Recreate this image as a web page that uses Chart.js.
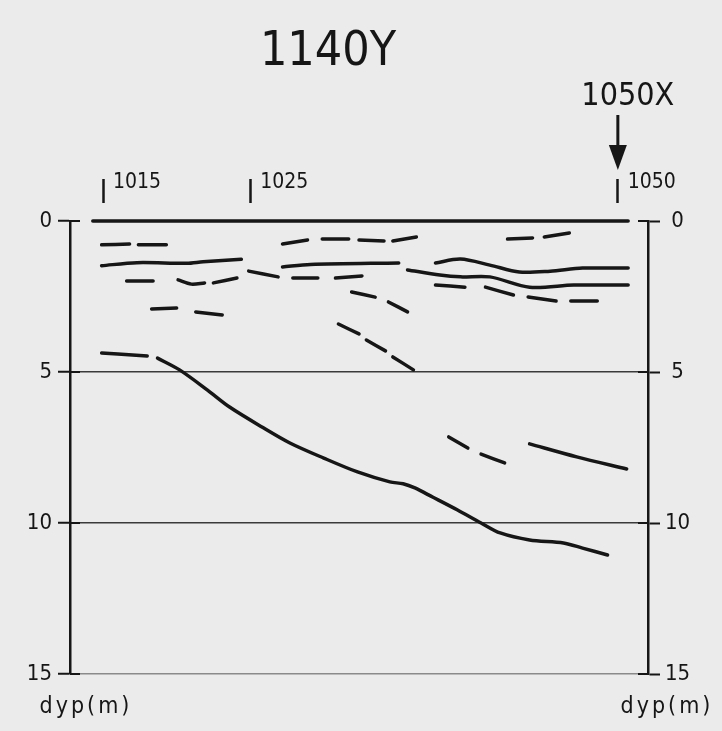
<!DOCTYPE html>
<html>
<head>
<meta charset="utf-8">
<script src="https://cdn.jsdelivr.net/npm/chart.js@4.4.1/dist/chart.umd.min.js"></script>
<style>
  html, body { margin: 0; padding: 0; background: #ebebeb; }
</style>
</head>
<body>
<canvas id="profile" width="722" height="731"></canvas>
<script>
// profile 1140Y, depth section along the line

const profileTitle = '1140Y';
const crossLabel = '1050X';     // crossing profile marked with the arrow
const crossStation = 1050;
const depthUnit = 'dyp(m)';

const stationTicks = [1015, 1025, 1050];   // top axis
const depthTicks = [0, 5, 10, 15];         // both side axes

// reflectors as [station, depth m], null = gap between hand drawn dashes
const seabed = [[1014.3, 0], [1050.7, 0]];

const reflA = [[1014.9, 0.79], [1016.8, 0.76], null, [1017.4, 0.79], [1019.3, 0.79]];
const reflB = [[1014.9, 1.48], [1017.3, 1.38], [1020.7, 1.40], [1021.8, 1.35], [1024.4, 1.27]];
const reflC = [[1024.9, 1.66], [1026.9, 1.85]];
const reflD = [[1016.6, 1.99], [1018.4, 1.99], null,
               [1020.1, 1.95], [1021.0, 2.09], [1021.9, 2.05], null,
               [1022.5, 2.05], [1024.1, 1.89], null,
               [1027.9, 1.89], [1029.6, 1.89], null,
               [1030.8, 1.89], [1032.6, 1.82]];
const reflE = [[1018.3, 2.91], [1020.0, 2.88], null, [1021.3, 3.01], [1023.1, 3.11]];
const reflF = [[1014.9, 4.37], [1016.0, 4.40], [1018.0, 4.47]];
const reflG = [[1027.2, 0.76], [1028.9, 0.63], null,
               [1029.9, 0.60], [1031.7, 0.60], null,
               [1032.4, 0.63], [1034.1, 0.66], null,
               [1034.7, 0.66], [1036.3, 0.53]];
const reflH = [[1027.2, 1.52], [1029.1, 1.44], [1035.1, 1.39]];
const reflI = [[1031.9, 2.35], [1033.5, 2.52], null, [1034.4, 2.68], [1035.7, 3.01]];
const reflJ = [[1031.0, 3.41], [1032.4, 3.74], null,
               [1032.9, 3.94], [1034.2, 4.30], null,
               [1034.7, 4.50], [1036.1, 4.93]];
const reflK = [[1037.6, 1.39], [1039.3, 1.26], [1041.3, 1.46], [1043.3, 1.69],
               [1045.4, 1.66], [1047.6, 1.56], [1050.7, 1.56]];
const reflL = [[1035.7, 1.62], [1037.9, 1.79], [1039.3, 1.85], [1041.3, 1.85],
               [1044.0, 2.19], [1047.0, 2.12], [1050.7, 2.12]];
const reflM = [[1037.6, 2.12], [1039.6, 2.19], null,
               [1041.0, 2.19], [1042.9, 2.45], null,
               [1043.9, 2.52], [1045.8, 2.65], null,
               [1046.8, 2.65], [1048.6, 2.65]];
const reflN = [[1042.5, 0.60], [1044.2, 0.56], null, [1045.0, 0.53], [1046.7, 0.40]];
const bedrock = [[1018.7, 4.54], [1020.2, 4.93], [1022.1, 5.60], [1023.6, 6.16],
                 [1025.8, 6.82], [1027.7, 7.35], [1030.0, 7.85], [1032.3, 8.31],
                 [1034.5, 8.64], [1035.4, 8.70], [1036.2, 8.84], [1037.4, 9.14],
                 [1039.1, 9.57], [1040.7, 10.0], [1042.0, 10.33], [1044.0, 10.56],
                 [1046.3, 10.66], [1047.6, 10.83], [1049.3, 11.06]];
const reflO = [[1038.5, 7.15], [1039.8, 7.52], null, [1040.7, 7.72], [1042.3, 8.01]];
const reflP = [[1044.0, 7.38], [1047.2, 7.81], [1050.6, 8.21]];

const reflectors = [seabed, reflA, reflB, reflC, reflD, reflE, reflF, reflG, reflH,
                    reflI, reflJ, reflK, reflL, reflM, reflN, bedrock, reflO, reflP];

const INK = '#161616';
const FONT = "'DejaVu Sans Condensed', 'DejaVu Sans', sans-serif";

// null entries become gaps in the line
function toPoints(list) {
    let lastX = 0;
    return list.map(p => {
        if (p === null) return { x: lastX, y: null };
        lastX = p[0];
        return { x: p[0], y: p[1] };
    });
}

// depth grid: no line on 0 (the seabed is drawn), lighter line at the bottom
function gridColor(ctx) {
    const v = ctx.tick ? ctx.tick.value : null;
    if (v === 0) return 'rgba(0,0,0,0)';
    if (v === 15) return '#8a8a8a';
    return '#3a3a3a';
}

const profileLabels = {
    id: 'profileLabels',
    afterDraw(chart) {
        const { ctx, chartArea } = chart;
        const x = chart.scales.x;
        const y = chart.scales.y;
        ctx.save();
        ctx.fillStyle = INK;
        ctx.strokeStyle = INK;
        ctx.textAlign = 'center';
        ctx.textBaseline = 'alphabetic';

        ctx.font = `48px ${FONT}`;
        ctx.fillText(profileTitle, 328, 65);

        const xm = x.getPixelForValue(crossStation);
        ctx.font = `32px ${FONT}`;
        ctx.fillText(crossLabel, xm + 10, 105);
        ctx.lineWidth = 3;
        ctx.beginPath();
        ctx.moveTo(xm, 115);
        ctx.lineTo(xm, 150);
        ctx.stroke();
        ctx.beginPath();
        ctx.moveTo(xm - 9, 145);
        ctx.lineTo(xm + 9, 145);
        ctx.lineTo(xm, 170);
        ctx.closePath();
        ctx.fill();

        // depth ticks cross the side axes a little
        ctx.lineWidth = 2;
        depthTicks.forEach(v => {
            const py = y.getPixelForValue(v);
            ctx.beginPath();
            ctx.moveTo(chartArea.left, py);
            ctx.lineTo(chartArea.left + 10, py);
            ctx.moveTo(chartArea.right - 10, py);
            ctx.lineTo(chartArea.right, py);
            ctx.stroke();
        });

        ctx.font = `23px ${FONT}`;
        ctx.letterSpacing = '3px';
        ctx.fillText(depthUnit, chartArea.left + 16, 713);
        ctx.fillText(depthUnit, chartArea.right + 19, 713);
        ctx.restore();
    }
};

const sideTicks = {
    font: { family: FONT, size: 22 },
    color: INK
};

new Chart(document.getElementById('profile'), {
    type: 'line',
    data: {
        datasets: reflectors.map(r => ({
            data: toPoints(r),
            borderColor: INK,
            borderWidth: 3.5,
            borderCapStyle: 'round',
            borderJoinStyle: 'round',
            pointRadius: 0,
            tension: 0.3,
            spanGaps: false,
            clip: 8,
            yAxisID: 'y'
        }))
    },
    options: {
        responsive: false,
        animation: false,
        devicePixelRatio: 1,
        layout: { padding: { top: 0, right: 0, bottom: 57, left: 0 } },
        plugins: {
            legend: { display: false },
            tooltip: { enabled: false }
        },
        scales: {
            x: {
                type: 'linear',
                position: 'top',
                min: 1012.75,
                max: 1052.05,
                afterBuildTicks: s => { s.ticks = stationTicks.map(v => ({ value: v })); },
                afterFit: s => { s.height = 221; },
                border: { display: false },
                grid: {
                    drawOnChartArea: false,
                    tickLength: 42,
                    tickWidth: 2.5,
                    tickColor: INK,
                    tickBorderDash: [24, 80]
                },
                ticks: {
                    font: { family: FONT, size: 21 },
                    color: INK,
                    padding: -16,
                    labelOffset: 34,
                    maxRotation: 0,
                    autoSkip: false,
                    callback: v => String(v)
                }
            },
            y: {
                type: 'linear',
                position: 'left',
                reverse: true,
                min: 0,
                max: 15,
                afterBuildTicks: s => { s.ticks = depthTicks.map(v => ({ value: v })); },
                afterFit: s => { s.width = 70; },
                border: { display: true, color: INK, width: 2.5 },
                grid: {
                    color: gridColor,
                    lineWidth: 1.5,
                    tickLength: 12,
                    tickWidth: 2,
                    tickColor: INK
                },
                ticks: Object.assign({ padding: 6 }, sideTicks)
            },
            y2: {
                type: 'linear',
                position: 'right',
                reverse: true,
                min: 0,
                max: 15,
                afterBuildTicks: s => { s.ticks = depthTicks.map(v => ({ value: v })); },
                afterFit: s => { s.width = 74; },
                border: { display: true, color: INK, width: 2.5 },
                grid: {
                    drawOnChartArea: false,
                    tickLength: 12,
                    tickWidth: 2,
                    tickColor: INK
                },
                ticks: Object.assign({ padding: 5, crossAlign: 'center' }, sideTicks)
            }
        }
    },
    plugins: [profileLabels]
});
</script>
</body>
</html>
